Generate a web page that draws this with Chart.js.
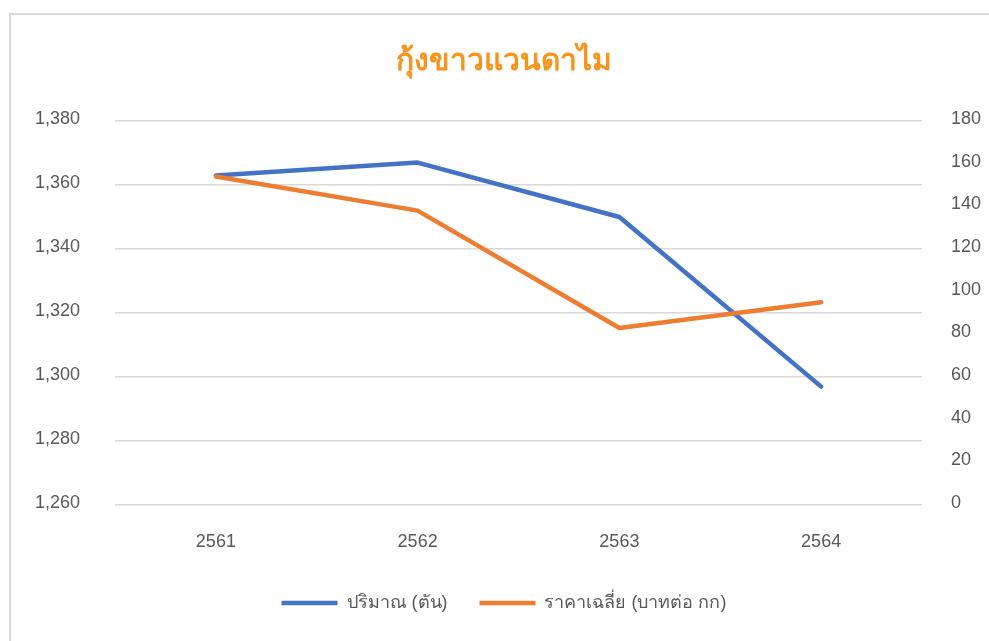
<!DOCTYPE html>
<html>
<head>
<meta charset="utf-8">
<script src="https://cdn.jsdelivr.net/npm/chart.js@4/dist/chart.umd.min.js"></script>
<style>
  html, body { margin: 0; padding: 0; background: #ffffff; overflow: hidden; width: 989px; height: 641px; }
  #frame { position: absolute; left: 9px; top: 13px; width: 1000px; height: 700px; border-left: 2px solid #d9d9d9; border-top: 2px solid #d9d9d9; }
  #wrap { position: absolute; left: 10px; top: 0; width: 988px; height: 641px; }
</style>
</head>
<body>
<div id="frame"></div>
<div id="wrap"><canvas id="c"></canvas></div>
<script>
const chartTitle = 'กุ้งขาวแวนดาไม';
const categories = ['2561', '2562', '2563', '2564'];
const seriesNames = ['ปริมาณ (ตัน)', 'ราคาเฉลี่ย (บาทต่อ กก)'];
const quantityTons = [1363, 1367, 1350, 1297];
const avgPriceBahtPerKg = [154, 138, 83, 95];
const leftTicks = [1260, 1280, 1300, 1320, 1340, 1360, 1380];
const rightTicks = [0, 20, 40, 60, 80, 100, 120, 140, 160, 180];

const FONT = "'Liberation Sans', Arial, 'Noto Sans', 'DejaVu Sans', sans-serif";
const TXT = '#595959';

new Chart(document.getElementById('c'), {
  type: 'line',
  data: {
    labels: categories,
    datasets: [
      {
        label: seriesNames[0],
        data: quantityTons,
        yAxisID: 'y',
        borderColor: '#4472C4',
        backgroundColor: '#4472C4',
        borderWidth: 4.5,
        borderCapStyle: 'round',
        borderJoinStyle: 'round',
        pointRadius: 0,
        pointStyle: 'line',
        tension: 0,
        order: 1
      },
      {
        label: seriesNames[1],
        data: avgPriceBahtPerKg,
        yAxisID: 'y1',
        borderColor: '#ED7D31',
        backgroundColor: '#ED7D31',
        borderWidth: 4.5,
        borderCapStyle: 'round',
        borderJoinStyle: 'round',
        pointRadius: 0,
        pointStyle: 'line',
        tension: 0,
        order: 0
      }
    ]
  },
  options: {
    responsive: true,
    maintainAspectRatio: false,
    animation: false,
    layout: { padding: { left: 0, right: 0, top: 0, bottom: 19 } },
    plugins: {
      title: {
        display: true,
        text: chartTitle,
        color: '#F7941D',
        font: { family: FONT, size: 30, weight: 'bold', lineHeight: 1.2 },
        padding: { top: 44, bottom: 41 }
      },
      legend: {
        display: true,
        position: 'bottom',
        labels: {
          usePointStyle: true,
          pointStyleWidth: 56,
          boxHeight: 18,
          padding: 32,
          color: TXT,
          font: { family: FONT, size: 18 },
          sort: (a, b) => a.datasetIndex - b.datasetIndex
        }
      },
      tooltip: { enabled: false }
    },
    scales: {
      x: {
        offset: true,
        grid: { display: false, drawTicks: false },
        border: { display: false },
        ticks: { color: TXT, font: { family: FONT, size: 18 }, padding: 26, maxRotation: 0 },
        afterFit: (s) => { s.height = 57; }
      },
      y: {
        position: 'left',
        min: leftTicks[0],
        max: leftTicks[leftTicks.length - 1],
        afterBuildTicks: (s) => { s.ticks = leftTicks.map(v => ({ value: v })); },
        grid: { color: '#d9d9d9', lineWidth: 1.5, drawTicks: false },
        border: { display: false },
        ticks: { color: TXT, font: { family: FONT, size: 18 }, padding: 35, labelOffset: -2 },
        afterFit: (s) => { s.width = 105; }
      },
      y1: {
        position: 'right',
        min: rightTicks[0],
        max: rightTicks[rightTicks.length - 1],
        afterBuildTicks: (s) => { s.ticks = rightTicks.map(v => ({ value: v })); },
        grid: { display: false, drawTicks: false },
        border: { display: false },
        ticks: { color: TXT, font: { family: FONT, size: 18 }, padding: 29, labelOffset: -2 },
        afterFit: (s) => { s.width = 76; }
      }
    }
  }
});
</script>
</body>
</html>
